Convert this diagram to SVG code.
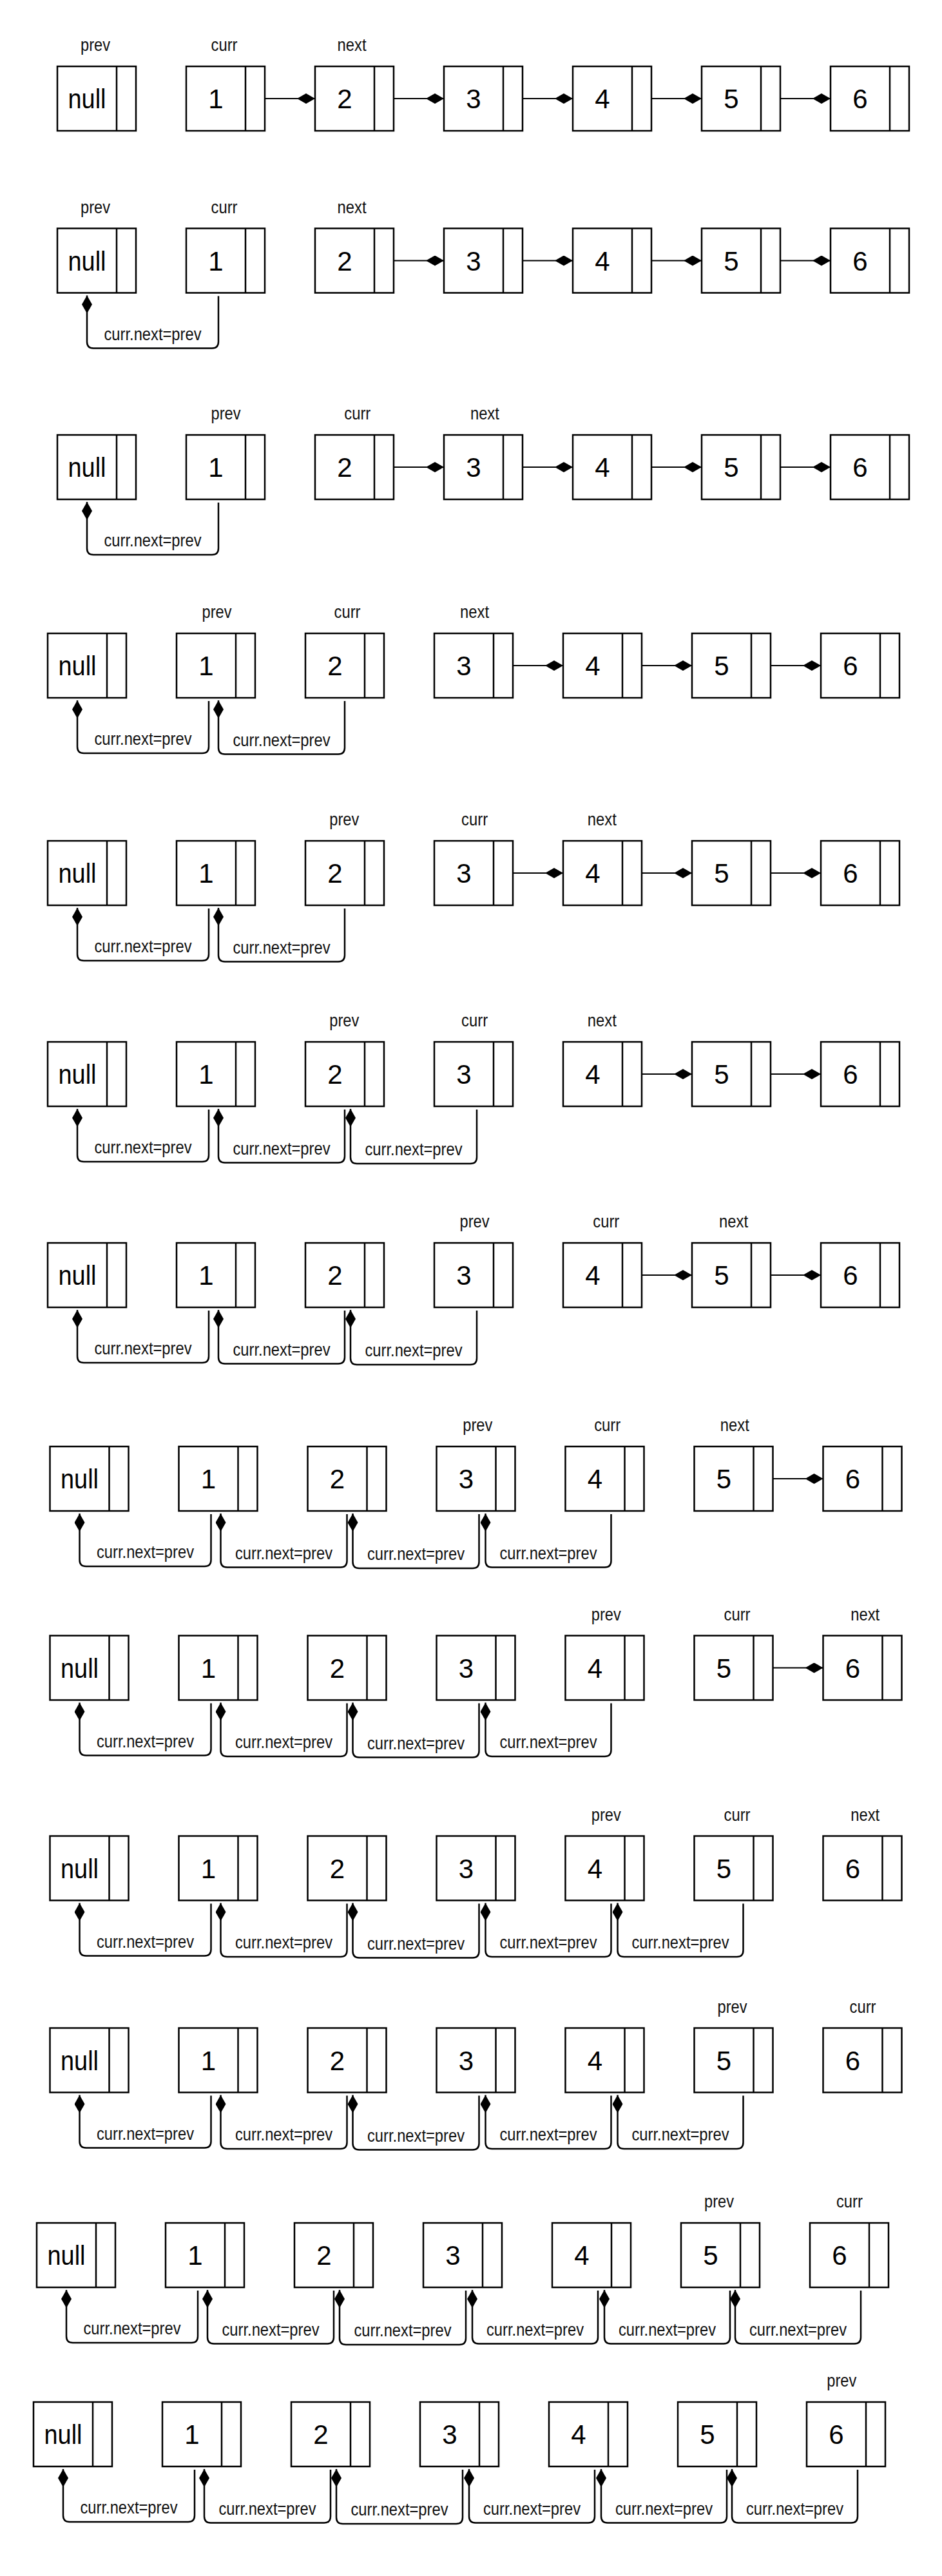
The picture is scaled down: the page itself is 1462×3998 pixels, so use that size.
<svg xmlns="http://www.w3.org/2000/svg" xmlns:xlink="http://www.w3.org/1999/xlink" width="1462" height="3998" viewBox="0 0 1462 3998">
<style>
.bx{fill:#fff;stroke:#000;stroke-width:2.5}
.num{font-family:"Liberation Sans",Arial,sans-serif;font-size:42px;text-anchor:middle;fill:#000}
.lbl{font-family:"Liberation Sans",Arial,sans-serif;font-size:27px;text-anchor:middle;fill:#111}
.ch{fill:none;stroke:#000;stroke-width:2;marker-end:url(#dm)}
.cn{fill:none;stroke:#000;stroke-width:2.5;marker-end:url(#dm)}
</style>
<defs>
<marker id="dm" markerUnits="userSpaceOnUse" viewBox="0 0 28 16" refX="28" refY="8" markerWidth="28" markerHeight="16" orient="auto">
<path d="M0,8 L14,0 L28,8 L14,16 Z" fill="#000"/>
</marker>
<g id="box"><rect class="bx" x="0" y="0" width="122" height="100"/><line class="bx" x1="92" y1="0" x2="92" y2="100"/></g>
</defs>
<rect width="1462" height="3998" fill="#fff"/>

<!-- Row 1 -->
<g id="row1">
<text class="lbl" x="148" y="79" textLength="46" lengthAdjust="spacingAndGlyphs">prev</text>
<text class="lbl" x="348" y="79" textLength="41" lengthAdjust="spacingAndGlyphs">curr</text>
<text class="lbl" x="546" y="79" textLength="45" lengthAdjust="spacingAndGlyphs">next</text>
<g id="r1-null"><use xlink:href="#box" x="89" y="103"/><text class="num" x="135" y="168" textLength="59" lengthAdjust="spacingAndGlyphs">null</text></g>
<g id="r1-n1"><use xlink:href="#box" x="289" y="103"/><text class="num" x="335" y="168">1</text></g>
<g id="r1-n2"><use xlink:href="#box" x="489" y="103"/><text class="num" x="535" y="168">2</text></g>
<g id="r1-n3"><use xlink:href="#box" x="689" y="103"/><text class="num" x="735" y="168">3</text></g>
<g id="r1-n4"><use xlink:href="#box" x="889" y="103"/><text class="num" x="935" y="168">4</text></g>
<g id="r1-n5"><use xlink:href="#box" x="1089" y="103"/><text class="num" x="1135" y="168">5</text></g>
<g id="r1-n6"><use xlink:href="#box" x="1289" y="103"/><text class="num" x="1335" y="168">6</text></g>
</g>

<!-- Row 2 -->
<g id="row2">
<text class="lbl" x="148" y="330.5" textLength="46" lengthAdjust="spacingAndGlyphs">prev</text>
<text class="lbl" x="348" y="330.5" textLength="41" lengthAdjust="spacingAndGlyphs">curr</text>
<text class="lbl" x="546" y="330.5" textLength="45" lengthAdjust="spacingAndGlyphs">next</text>
<g id="r2-null"><use xlink:href="#box" x="89" y="354.5"/><text class="num" x="135" y="419.5" textLength="59" lengthAdjust="spacingAndGlyphs">null</text></g>
<g id="r2-n1"><use xlink:href="#box" x="289" y="354.5"/><text class="num" x="335" y="419.5">1</text></g>
<g id="r2-n2"><use xlink:href="#box" x="489" y="354.5"/><text class="num" x="535" y="419.5">2</text></g>
<g id="r2-n3"><use xlink:href="#box" x="689" y="354.5"/><text class="num" x="735" y="419.5">3</text></g>
<g id="r2-n4"><use xlink:href="#box" x="889" y="354.5"/><text class="num" x="935" y="419.5">4</text></g>
<g id="r2-n5"><use xlink:href="#box" x="1089" y="354.5"/><text class="num" x="1135" y="419.5">5</text></g>
<g id="r2-n6"><use xlink:href="#box" x="1289" y="354.5"/><text class="num" x="1335" y="419.5">6</text></g>
</g>

<!-- Row 3 -->
<g id="row3">
<text class="lbl" x="350.6" y="651" textLength="46" lengthAdjust="spacingAndGlyphs">prev</text>
<text class="lbl" x="554.8" y="651" textLength="41" lengthAdjust="spacingAndGlyphs">curr</text>
<text class="lbl" x="752.4" y="651" textLength="45" lengthAdjust="spacingAndGlyphs">next</text>
<g id="r3-null"><use xlink:href="#box" x="89" y="675"/><text class="num" x="135" y="740" textLength="59" lengthAdjust="spacingAndGlyphs">null</text></g>
<g id="r3-n1"><use xlink:href="#box" x="289" y="675"/><text class="num" x="335" y="740">1</text></g>
<g id="r3-n2"><use xlink:href="#box" x="489" y="675"/><text class="num" x="535" y="740">2</text></g>
<g id="r3-n3"><use xlink:href="#box" x="689" y="675"/><text class="num" x="735" y="740">3</text></g>
<g id="r3-n4"><use xlink:href="#box" x="889" y="675"/><text class="num" x="935" y="740">4</text></g>
<g id="r3-n5"><use xlink:href="#box" x="1089" y="675"/><text class="num" x="1135" y="740">5</text></g>
<g id="r3-n6"><use xlink:href="#box" x="1289" y="675"/><text class="num" x="1335" y="740">6</text></g>
</g>

<!-- Row 4 -->
<g id="row4">
<text class="lbl" x="336.6" y="959" textLength="46" lengthAdjust="spacingAndGlyphs">prev</text>
<text class="lbl" x="539" y="959" textLength="41" lengthAdjust="spacingAndGlyphs">curr</text>
<text class="lbl" x="736.6" y="959" textLength="45" lengthAdjust="spacingAndGlyphs">next</text>
<g id="r4-null"><use xlink:href="#box" x="74" y="983"/><text class="num" x="120" y="1048" textLength="59" lengthAdjust="spacingAndGlyphs">null</text></g>
<g id="r4-n1"><use xlink:href="#box" x="274" y="983"/><text class="num" x="320" y="1048">1</text></g>
<g id="r4-n2"><use xlink:href="#box" x="474" y="983"/><text class="num" x="520" y="1048">2</text></g>
<g id="r4-n3"><use xlink:href="#box" x="674" y="983"/><text class="num" x="720" y="1048">3</text></g>
<g id="r4-n4"><use xlink:href="#box" x="874" y="983"/><text class="num" x="920" y="1048">4</text></g>
<g id="r4-n5"><use xlink:href="#box" x="1074" y="983"/><text class="num" x="1120" y="1048">5</text></g>
<g id="r4-n6"><use xlink:href="#box" x="1274" y="983"/><text class="num" x="1320" y="1048">6</text></g>
</g>

<!-- Row 5 -->
<g id="row5">
<text class="lbl" x="534.3" y="1281" textLength="46" lengthAdjust="spacingAndGlyphs">prev</text>
<text class="lbl" x="736.6" y="1281" textLength="41" lengthAdjust="spacingAndGlyphs">curr</text>
<text class="lbl" x="934.3" y="1281" textLength="45" lengthAdjust="spacingAndGlyphs">next</text>
<g id="r5-null"><use xlink:href="#box" x="74" y="1305"/><text class="num" x="120" y="1370" textLength="59" lengthAdjust="spacingAndGlyphs">null</text></g>
<g id="r5-n1"><use xlink:href="#box" x="274" y="1305"/><text class="num" x="320" y="1370">1</text></g>
<g id="r5-n2"><use xlink:href="#box" x="474" y="1305"/><text class="num" x="520" y="1370">2</text></g>
<g id="r5-n3"><use xlink:href="#box" x="674" y="1305"/><text class="num" x="720" y="1370">3</text></g>
<g id="r5-n4"><use xlink:href="#box" x="874" y="1305"/><text class="num" x="920" y="1370">4</text></g>
<g id="r5-n5"><use xlink:href="#box" x="1074" y="1305"/><text class="num" x="1120" y="1370">5</text></g>
<g id="r5-n6"><use xlink:href="#box" x="1274" y="1305"/><text class="num" x="1320" y="1370">6</text></g>
</g>

<!-- Row 6 -->
<g id="row6">
<text class="lbl" x="534.3" y="1593" textLength="46" lengthAdjust="spacingAndGlyphs">prev</text>
<text class="lbl" x="736.6" y="1593" textLength="41" lengthAdjust="spacingAndGlyphs">curr</text>
<text class="lbl" x="934.3" y="1593" textLength="45" lengthAdjust="spacingAndGlyphs">next</text>
<g id="r6-null"><use xlink:href="#box" x="74" y="1617"/><text class="num" x="120" y="1682" textLength="59" lengthAdjust="spacingAndGlyphs">null</text></g>
<g id="r6-n1"><use xlink:href="#box" x="274" y="1617"/><text class="num" x="320" y="1682">1</text></g>
<g id="r6-n2"><use xlink:href="#box" x="474" y="1617"/><text class="num" x="520" y="1682">2</text></g>
<g id="r6-n3"><use xlink:href="#box" x="674" y="1617"/><text class="num" x="720" y="1682">3</text></g>
<g id="r6-n4"><use xlink:href="#box" x="874" y="1617"/><text class="num" x="920" y="1682">4</text></g>
<g id="r6-n5"><use xlink:href="#box" x="1074" y="1617"/><text class="num" x="1120" y="1682">5</text></g>
<g id="r6-n6"><use xlink:href="#box" x="1274" y="1617"/><text class="num" x="1320" y="1682">6</text></g>
</g>

<!-- Row 7 -->
<g id="row7">
<text class="lbl" x="736.6" y="1905" textLength="46" lengthAdjust="spacingAndGlyphs">prev</text>
<text class="lbl" x="940.8" y="1905" textLength="41" lengthAdjust="spacingAndGlyphs">curr</text>
<text class="lbl" x="1138.5" y="1905" textLength="45" lengthAdjust="spacingAndGlyphs">next</text>
<g id="r7-null"><use xlink:href="#box" x="74" y="1929"/><text class="num" x="120" y="1994" textLength="59" lengthAdjust="spacingAndGlyphs">null</text></g>
<g id="r7-n1"><use xlink:href="#box" x="274" y="1929"/><text class="num" x="320" y="1994">1</text></g>
<g id="r7-n2"><use xlink:href="#box" x="474" y="1929"/><text class="num" x="520" y="1994">2</text></g>
<g id="r7-n3"><use xlink:href="#box" x="674" y="1929"/><text class="num" x="720" y="1994">3</text></g>
<g id="r7-n4"><use xlink:href="#box" x="874" y="1929"/><text class="num" x="920" y="1994">4</text></g>
<g id="r7-n5"><use xlink:href="#box" x="1074" y="1929"/><text class="num" x="1120" y="1994">5</text></g>
<g id="r7-n6"><use xlink:href="#box" x="1274" y="1929"/><text class="num" x="1320" y="1994">6</text></g>
</g>

<!-- Row 8 -->
<g id="row8">
<text class="lbl" x="741.3" y="2221" textLength="46" lengthAdjust="spacingAndGlyphs">prev</text>
<text class="lbl" x="942.7" y="2221" textLength="41" lengthAdjust="spacingAndGlyphs">curr</text>
<text class="lbl" x="1140.3" y="2221" textLength="45" lengthAdjust="spacingAndGlyphs">next</text>
<g id="r8-null"><use xlink:href="#box" x="77.5" y="2245"/><text class="num" x="123.5" y="2310" textLength="59" lengthAdjust="spacingAndGlyphs">null</text></g>
<g id="r8-n1"><use xlink:href="#box" x="277.5" y="2245"/><text class="num" x="323.5" y="2310">1</text></g>
<g id="r8-n2"><use xlink:href="#box" x="477.5" y="2245"/><text class="num" x="523.5" y="2310">2</text></g>
<g id="r8-n3"><use xlink:href="#box" x="677.5" y="2245"/><text class="num" x="723.5" y="2310">3</text></g>
<g id="r8-n4"><use xlink:href="#box" x="877.5" y="2245"/><text class="num" x="923.5" y="2310">4</text></g>
<g id="r8-n5"><use xlink:href="#box" x="1077.5" y="2245"/><text class="num" x="1123.5" y="2310">5</text></g>
<g id="r8-n6"><use xlink:href="#box" x="1277.5" y="2245"/><text class="num" x="1323.5" y="2310">6</text></g>
</g>

<!-- Row 9 -->
<g id="row9">
<text class="lbl" x="940.8" y="2514.5" textLength="46" lengthAdjust="spacingAndGlyphs">prev</text>
<text class="lbl" x="1144" y="2514.5" textLength="41" lengthAdjust="spacingAndGlyphs">curr</text>
<text class="lbl" x="1342.7" y="2514.5" textLength="45" lengthAdjust="spacingAndGlyphs">next</text>
<g id="r9-null"><use xlink:href="#box" x="77.5" y="2538.5"/><text class="num" x="123.5" y="2603.5" textLength="59" lengthAdjust="spacingAndGlyphs">null</text></g>
<g id="r9-n1"><use xlink:href="#box" x="277.5" y="2538.5"/><text class="num" x="323.5" y="2603.5">1</text></g>
<g id="r9-n2"><use xlink:href="#box" x="477.5" y="2538.5"/><text class="num" x="523.5" y="2603.5">2</text></g>
<g id="r9-n3"><use xlink:href="#box" x="677.5" y="2538.5"/><text class="num" x="723.5" y="2603.5">3</text></g>
<g id="r9-n4"><use xlink:href="#box" x="877.5" y="2538.5"/><text class="num" x="923.5" y="2603.5">4</text></g>
<g id="r9-n5"><use xlink:href="#box" x="1077.5" y="2538.5"/><text class="num" x="1123.5" y="2603.5">5</text></g>
<g id="r9-n6"><use xlink:href="#box" x="1277.5" y="2538.5"/><text class="num" x="1323.5" y="2603.5">6</text></g>
</g>

<!-- Row 10 -->
<g id="row10">
<text class="lbl" x="940.8" y="2825.5" textLength="46" lengthAdjust="spacingAndGlyphs">prev</text>
<text class="lbl" x="1144" y="2825.5" textLength="41" lengthAdjust="spacingAndGlyphs">curr</text>
<text class="lbl" x="1342.7" y="2825.5" textLength="45" lengthAdjust="spacingAndGlyphs">next</text>
<g id="r10-null"><use xlink:href="#box" x="77.5" y="2849.5"/><text class="num" x="123.5" y="2914.5" textLength="59" lengthAdjust="spacingAndGlyphs">null</text></g>
<g id="r10-n1"><use xlink:href="#box" x="277.5" y="2849.5"/><text class="num" x="323.5" y="2914.5">1</text></g>
<g id="r10-n2"><use xlink:href="#box" x="477.5" y="2849.5"/><text class="num" x="523.5" y="2914.5">2</text></g>
<g id="r10-n3"><use xlink:href="#box" x="677.5" y="2849.5"/><text class="num" x="723.5" y="2914.5">3</text></g>
<g id="r10-n4"><use xlink:href="#box" x="877.5" y="2849.5"/><text class="num" x="923.5" y="2914.5">4</text></g>
<g id="r10-n5"><use xlink:href="#box" x="1077.5" y="2849.5"/><text class="num" x="1123.5" y="2914.5">5</text></g>
<g id="r10-n6"><use xlink:href="#box" x="1277.5" y="2849.5"/><text class="num" x="1323.5" y="2914.5">6</text></g>
</g>

<!-- Row 11 -->
<g id="row11">
<text class="lbl" x="1136.6" y="3123.5" textLength="46" lengthAdjust="spacingAndGlyphs">prev</text>
<text class="lbl" x="1339" y="3123.5" textLength="41" lengthAdjust="spacingAndGlyphs">curr</text>
<g id="r11-null"><use xlink:href="#box" x="77.5" y="3147.5"/><text class="num" x="123.5" y="3212.5" textLength="59" lengthAdjust="spacingAndGlyphs">null</text></g>
<g id="r11-n1"><use xlink:href="#box" x="277.5" y="3147.5"/><text class="num" x="323.5" y="3212.5">1</text></g>
<g id="r11-n2"><use xlink:href="#box" x="477.5" y="3147.5"/><text class="num" x="523.5" y="3212.5">2</text></g>
<g id="r11-n3"><use xlink:href="#box" x="677.5" y="3147.5"/><text class="num" x="723.5" y="3212.5">3</text></g>
<g id="r11-n4"><use xlink:href="#box" x="877.5" y="3147.5"/><text class="num" x="923.5" y="3212.5">4</text></g>
<g id="r11-n5"><use xlink:href="#box" x="1077.5" y="3147.5"/><text class="num" x="1123.5" y="3212.5">5</text></g>
<g id="r11-n6"><use xlink:href="#box" x="1277.5" y="3147.5"/><text class="num" x="1323.5" y="3212.5">6</text></g>
</g>

<!-- Row 12 -->
<g id="row12">
<text class="lbl" x="1116" y="3426" textLength="46" lengthAdjust="spacingAndGlyphs">prev</text>
<text class="lbl" x="1318.4" y="3426" textLength="41" lengthAdjust="spacingAndGlyphs">curr</text>
<g id="r12-null"><use xlink:href="#box" x="57" y="3450"/><text class="num" x="103" y="3515" textLength="59" lengthAdjust="spacingAndGlyphs">null</text></g>
<g id="r12-n1"><use xlink:href="#box" x="257" y="3450"/><text class="num" x="303" y="3515">1</text></g>
<g id="r12-n2"><use xlink:href="#box" x="457" y="3450"/><text class="num" x="503" y="3515">2</text></g>
<g id="r12-n3"><use xlink:href="#box" x="657" y="3450"/><text class="num" x="703" y="3515">3</text></g>
<g id="r12-n4"><use xlink:href="#box" x="857" y="3450"/><text class="num" x="903" y="3515">4</text></g>
<g id="r12-n5"><use xlink:href="#box" x="1057" y="3450"/><text class="num" x="1103" y="3515">5</text></g>
<g id="r12-n6"><use xlink:href="#box" x="1257" y="3450"/><text class="num" x="1303" y="3515">6</text></g>
</g>

<!-- Row 13 -->
<g id="row13">
<text class="lbl" x="1306.3" y="3704" textLength="46" lengthAdjust="spacingAndGlyphs">prev</text>
<g id="r13-null"><use xlink:href="#box" x="52" y="3728"/><text class="num" x="98" y="3793" textLength="59" lengthAdjust="spacingAndGlyphs">null</text></g>
<g id="r13-n1"><use xlink:href="#box" x="252" y="3728"/><text class="num" x="298" y="3793">1</text></g>
<g id="r13-n2"><use xlink:href="#box" x="452" y="3728"/><text class="num" x="498" y="3793">2</text></g>
<g id="r13-n3"><use xlink:href="#box" x="652" y="3728"/><text class="num" x="698" y="3793">3</text></g>
<g id="r13-n4"><use xlink:href="#box" x="852" y="3728"/><text class="num" x="898" y="3793">4</text></g>
<g id="r13-n5"><use xlink:href="#box" x="1052" y="3728"/><text class="num" x="1098" y="3793">5</text></g>
<g id="r13-n6"><use xlink:href="#box" x="1252" y="3728"/><text class="num" x="1298" y="3793">6</text></g>
</g>

<!-- Connectors -->
<g id="connectors">
<path class="ch" d="M411,153 H489"/><path class="ch" d="M611,153 H689"/><path class="ch" d="M811,153 H889"/><path class="ch" d="M1011,153 H1089"/><path class="ch" d="M1211,153 H1289"/>
<path class="ch" d="M611,404.5 H689"/><path class="ch" d="M811,404.5 H889"/><path class="ch" d="M1011,404.5 H1089"/><path class="ch" d="M1211,404.5 H1289"/>
<path class="ch" d="M611,725 H689"/><path class="ch" d="M811,725 H889"/><path class="ch" d="M1011,725 H1089"/><path class="ch" d="M1211,725 H1289"/>
<path class="ch" d="M796,1033 H874"/><path class="ch" d="M996,1033 H1074"/><path class="ch" d="M1196,1033 H1274"/>
<path class="ch" d="M796,1355 H874"/><path class="ch" d="M996,1355 H1074"/><path class="ch" d="M1196,1355 H1274"/>
<path class="ch" d="M996,1667 H1074"/><path class="ch" d="M1196,1667 H1274"/>
<path class="ch" d="M996,1979 H1074"/><path class="ch" d="M1196,1979 H1274"/>
<path class="ch" d="M1199.5,2295 H1277.5"/>
<path class="ch" d="M1199.5,2588.5 H1277.5"/>

<path class="cn" d="M339,459.5 V530.5 Q339,540.5 329,540.5 H145 Q135,540.5 135,530.5 V458.5"/>
<text class="lbl" x="237" y="527.5" textLength="151" lengthAdjust="spacingAndGlyphs">curr.next=prev</text>
<path class="cn" d="M339,780 V851 Q339,861 329,861 H145 Q135,861 135,851 V779"/>
<text class="lbl" x="237" y="848" textLength="151" lengthAdjust="spacingAndGlyphs">curr.next=prev</text>
<path class="cn" d="M324,1088 V1159 Q324,1169 314,1169 H130 Q120,1169 120,1159 V1087"/>
<text class="lbl" x="222" y="1156" textLength="151" lengthAdjust="spacingAndGlyphs">curr.next=prev</text>
<path class="cn" d="M535,1088 V1160.5 Q535,1170.5 525,1170.5 H349 Q339,1170.5 339,1160.5 V1087"/>
<text class="lbl" x="437" y="1157.5" textLength="151" lengthAdjust="spacingAndGlyphs">curr.next=prev</text>
<path class="cn" d="M324,1410 V1481 Q324,1491 314,1491 H130 Q120,1491 120,1481 V1409"/>
<text class="lbl" x="222" y="1478" textLength="151" lengthAdjust="spacingAndGlyphs">curr.next=prev</text>
<path class="cn" d="M535,1410 V1482.5 Q535,1492.5 525,1492.5 H349 Q339,1492.5 339,1482.5 V1409"/>
<text class="lbl" x="437" y="1479.5" textLength="151" lengthAdjust="spacingAndGlyphs">curr.next=prev</text>
<path class="cn" d="M324,1722 V1793 Q324,1803 314,1803 H130 Q120,1803 120,1793 V1721"/>
<text class="lbl" x="222" y="1790" textLength="151" lengthAdjust="spacingAndGlyphs">curr.next=prev</text>
<path class="cn" d="M535,1722 V1794.5 Q535,1804.5 525,1804.5 H349 Q339,1804.5 339,1794.5 V1721"/>
<text class="lbl" x="437" y="1791.5" textLength="151" lengthAdjust="spacingAndGlyphs">curr.next=prev</text>
<path class="cn" d="M740,1722 V1796 Q740,1806 730,1806 H554 Q544,1806 544,1796 V1721"/>
<text class="lbl" x="642" y="1793" textLength="151" lengthAdjust="spacingAndGlyphs">curr.next=prev</text>
<path class="cn" d="M324,2034 V2105 Q324,2115 314,2115 H130 Q120,2115 120,2105 V2033"/>
<text class="lbl" x="222" y="2102" textLength="151" lengthAdjust="spacingAndGlyphs">curr.next=prev</text>
<path class="cn" d="M535,2034 V2106.5 Q535,2116.5 525,2116.5 H349 Q339,2116.5 339,2106.5 V2033"/>
<text class="lbl" x="437" y="2103.5" textLength="151" lengthAdjust="spacingAndGlyphs">curr.next=prev</text>
<path class="cn" d="M740,2034 V2108 Q740,2118 730,2118 H554 Q544,2118 544,2108 V2033"/>
<text class="lbl" x="642" y="2105" textLength="151" lengthAdjust="spacingAndGlyphs">curr.next=prev</text>
<path class="cn" d="M327.5,2350 V2421 Q327.5,2431 317.5,2431 H133.5 Q123.5,2431 123.5,2421 V2349"/>
<text class="lbl" x="225.5" y="2418" textLength="151" lengthAdjust="spacingAndGlyphs">curr.next=prev</text>
<path class="cn" d="M538.5,2350 V2422.5 Q538.5,2432.5 528.5,2432.5 H352.5 Q342.5,2432.5 342.5,2422.5 V2349"/>
<text class="lbl" x="440.5" y="2419.5" textLength="151" lengthAdjust="spacingAndGlyphs">curr.next=prev</text>
<path class="cn" d="M743.5,2350 V2424 Q743.5,2434 733.5,2434 H557.5 Q547.5,2434 547.5,2424 V2349"/>
<text class="lbl" x="645.5" y="2421" textLength="151" lengthAdjust="spacingAndGlyphs">curr.next=prev</text>
<path class="cn" d="M948.5,2350 V2422.5 Q948.5,2432.5 938.5,2432.5 H763.5 Q753.5,2432.5 753.5,2422.5 V2349"/>
<text class="lbl" x="851" y="2419.5" textLength="151" lengthAdjust="spacingAndGlyphs">curr.next=prev</text>
<path class="cn" d="M327.5,2643.5 V2714.5 Q327.5,2724.5 317.5,2724.5 H133.5 Q123.5,2724.5 123.5,2714.5 V2642.5"/>
<text class="lbl" x="225.5" y="2711.5" textLength="151" lengthAdjust="spacingAndGlyphs">curr.next=prev</text>
<path class="cn" d="M538.5,2643.5 V2716 Q538.5,2726 528.5,2726 H352.5 Q342.5,2726 342.5,2716 V2642.5"/>
<text class="lbl" x="440.5" y="2713" textLength="151" lengthAdjust="spacingAndGlyphs">curr.next=prev</text>
<path class="cn" d="M743.5,2643.5 V2717.5 Q743.5,2727.5 733.5,2727.5 H557.5 Q547.5,2727.5 547.5,2717.5 V2642.5"/>
<text class="lbl" x="645.5" y="2714.5" textLength="151" lengthAdjust="spacingAndGlyphs">curr.next=prev</text>
<path class="cn" d="M948.5,2643.5 V2716 Q948.5,2726 938.5,2726 H763.5 Q753.5,2726 753.5,2716 V2642.5"/>
<text class="lbl" x="851" y="2713" textLength="151" lengthAdjust="spacingAndGlyphs">curr.next=prev</text>
<path class="cn" d="M327.5,2954.5 V3025.5 Q327.5,3035.5 317.5,3035.5 H133.5 Q123.5,3035.5 123.5,3025.5 V2953.5"/>
<text class="lbl" x="225.5" y="3022.5" textLength="151" lengthAdjust="spacingAndGlyphs">curr.next=prev</text>
<path class="cn" d="M538.5,2954.5 V3027 Q538.5,3037 528.5,3037 H352.5 Q342.5,3037 342.5,3027 V2953.5"/>
<text class="lbl" x="440.5" y="3024" textLength="151" lengthAdjust="spacingAndGlyphs">curr.next=prev</text>
<path class="cn" d="M743.5,2954.5 V3028.5 Q743.5,3038.5 733.5,3038.5 H557.5 Q547.5,3038.5 547.5,3028.5 V2953.5"/>
<text class="lbl" x="645.5" y="3025.5" textLength="151" lengthAdjust="spacingAndGlyphs">curr.next=prev</text>
<path class="cn" d="M948.5,2954.5 V3027 Q948.5,3037 938.5,3037 H763.5 Q753.5,3037 753.5,3027 V2953.5"/>
<text class="lbl" x="851" y="3024" textLength="151" lengthAdjust="spacingAndGlyphs">curr.next=prev</text>
<path class="cn" d="M1153.5,2954.5 V3027 Q1153.5,3037 1143.5,3037 H968.5 Q958.5,3037 958.5,3027 V2953.5"/>
<text class="lbl" x="1056" y="3024" textLength="151" lengthAdjust="spacingAndGlyphs">curr.next=prev</text>
<path class="cn" d="M327.5,3252.5 V3323.5 Q327.5,3333.5 317.5,3333.5 H133.5 Q123.5,3333.5 123.5,3323.5 V3251.5"/>
<text class="lbl" x="225.5" y="3320.5" textLength="151" lengthAdjust="spacingAndGlyphs">curr.next=prev</text>
<path class="cn" d="M538.5,3252.5 V3325 Q538.5,3335 528.5,3335 H352.5 Q342.5,3335 342.5,3325 V3251.5"/>
<text class="lbl" x="440.5" y="3322" textLength="151" lengthAdjust="spacingAndGlyphs">curr.next=prev</text>
<path class="cn" d="M743.5,3252.5 V3326.5 Q743.5,3336.5 733.5,3336.5 H557.5 Q547.5,3336.5 547.5,3326.5 V3251.5"/>
<text class="lbl" x="645.5" y="3323.5" textLength="151" lengthAdjust="spacingAndGlyphs">curr.next=prev</text>
<path class="cn" d="M948.5,3252.5 V3325 Q948.5,3335 938.5,3335 H763.5 Q753.5,3335 753.5,3325 V3251.5"/>
<text class="lbl" x="851" y="3322" textLength="151" lengthAdjust="spacingAndGlyphs">curr.next=prev</text>
<path class="cn" d="M1153.5,3252.5 V3325 Q1153.5,3335 1143.5,3335 H968.5 Q958.5,3335 958.5,3325 V3251.5"/>
<text class="lbl" x="1056" y="3322" textLength="151" lengthAdjust="spacingAndGlyphs">curr.next=prev</text>
<path class="cn" d="M307,3555 V3626 Q307,3636 297,3636 H113 Q103,3636 103,3626 V3554"/>
<text class="lbl" x="205" y="3623" textLength="151" lengthAdjust="spacingAndGlyphs">curr.next=prev</text>
<path class="cn" d="M518,3555 V3627.5 Q518,3637.5 508,3637.5 H332 Q322,3637.5 322,3627.5 V3554"/>
<text class="lbl" x="420" y="3624.5" textLength="151" lengthAdjust="spacingAndGlyphs">curr.next=prev</text>
<path class="cn" d="M723,3555 V3629 Q723,3639 713,3639 H537 Q527,3639 527,3629 V3554"/>
<text class="lbl" x="625" y="3626" textLength="151" lengthAdjust="spacingAndGlyphs">curr.next=prev</text>
<path class="cn" d="M928,3555 V3627.5 Q928,3637.5 918,3637.5 H743 Q733,3637.5 733,3627.5 V3554"/>
<text class="lbl" x="830.5" y="3624.5" textLength="151" lengthAdjust="spacingAndGlyphs">curr.next=prev</text>
<path class="cn" d="M1133,3555 V3627.5 Q1133,3637.5 1123,3637.5 H948 Q938,3637.5 938,3627.5 V3554"/>
<text class="lbl" x="1035.5" y="3624.5" textLength="151" lengthAdjust="spacingAndGlyphs">curr.next=prev</text>
<path class="cn" d="M1336,3555 V3627.5 Q1336,3637.5 1326,3637.5 H1151 Q1141,3637.5 1141,3627.5 V3554"/>
<text class="lbl" x="1238.5" y="3624.5" textLength="151" lengthAdjust="spacingAndGlyphs">curr.next=prev</text>
<path class="cn" d="M302,3833 V3904 Q302,3914 292,3914 H108 Q98,3914 98,3904 V3832"/>
<text class="lbl" x="200" y="3901" textLength="151" lengthAdjust="spacingAndGlyphs">curr.next=prev</text>
<path class="cn" d="M513,3833 V3905.5 Q513,3915.5 503,3915.5 H327 Q317,3915.5 317,3905.5 V3832"/>
<text class="lbl" x="415" y="3902.5" textLength="151" lengthAdjust="spacingAndGlyphs">curr.next=prev</text>
<path class="cn" d="M718,3833 V3907 Q718,3917 708,3917 H532 Q522,3917 522,3907 V3832"/>
<text class="lbl" x="620" y="3904" textLength="151" lengthAdjust="spacingAndGlyphs">curr.next=prev</text>
<path class="cn" d="M923,3833 V3905.5 Q923,3915.5 913,3915.5 H738 Q728,3915.5 728,3905.5 V3832"/>
<text class="lbl" x="825.5" y="3902.5" textLength="151" lengthAdjust="spacingAndGlyphs">curr.next=prev</text>
<path class="cn" d="M1128,3833 V3905.5 Q1128,3915.5 1118,3915.5 H943 Q933,3915.5 933,3905.5 V3832"/>
<text class="lbl" x="1030.5" y="3902.5" textLength="151" lengthAdjust="spacingAndGlyphs">curr.next=prev</text>
<path class="cn" d="M1331,3833 V3905.5 Q1331,3915.5 1321,3915.5 H1146 Q1136,3915.5 1136,3905.5 V3832"/>
<text class="lbl" x="1233.5" y="3902.5" textLength="151" lengthAdjust="spacingAndGlyphs">curr.next=prev</text>
</g>
</svg>
